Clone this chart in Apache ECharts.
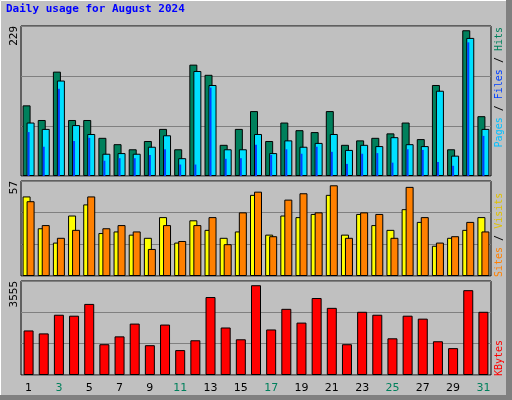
<!DOCTYPE html>
<html><head><meta charset="utf-8">
<script src="https://cdn.jsdelivr.net/npm/echarts@6/dist/echarts.min.js"></script>
<style>html,body{margin:0;padding:0;background:#c0c0c0}#c{width:512px;height:400px}</style>
</head><body><div id="c"></div>
<script>
const days = ['1','2','3','4','5','6','7','8','9','10','11','12','13','14','15','16','17','18','19','20','21','22','23','24','25','26','27','28','29','30','31'];
const weekend = ['3','4','10','11','17','18','24','25','31'];
const hits  = [111,88,164,88,88,60,50,42,55,74,42,175,159,49,74,102,55,84,72,69,102,49,56,60,67,84,58,143,42,229,94];
const files = [84,74,150,80,66,35,36,35,46,64,28,165,143,42,42,66,36,56,46,52,66,41,49,47,61,50,47,134,32,217,74];
const pages = [69,46,137,55,60,24,28,28,33,42,18,18,139,27,28,49,33,42,35,46,38,19,35,36,21,42,41,22,16,210,63];
const sites = [50,30,21,38,45,27,28,26,24,37,21,35,29,24,28,51,26,38,37,39,51,26,39,32,29,42,34,19,24,29,37];
const visits= [47,32,24,29,50,30,32,28,17,32,22,32,37,20,40,53,25,48,52,40,57,24,40,39,24,56,37,21,25,34,28];
const kbytes= [1764,1647,2386,2348,2815,1219,1530,2036,1180,1997,986,1375,3087,1881,1414,3555,1803,2620,2075,3048,2659,1219,2503,2386,1453,2348,2231,1336,1064,3359,2503];
const maxLabels = ['229','57','3555'];

const ch = echarts.init(document.getElementById('c'));
const mono = 'DejaVu Sans Mono';
const grids = [{top:26,height:150},{top:181,height:95},{top:281,height:94}].map(g=>({left:21,right:21,top:g.top,height:g.height,show:true,backgroundColor:'#c0c0c0',borderColor:'#000',borderWidth:1}));
function xa(gi, show, id){return {type:'category',gridIndex:gi,data:days,show:true,
  axisLine:{show:false},axisTick:{show:false},
  axisLabel:{show:show,margin:8,fontFamily:'DejaVu Sans',fontSize:11,
    color:(v)=>weekend.includes(v)?'#00805c':'#000'}};}
function ya(gi,max){return {type:'value',gridIndex:gi,min:0,max:max,interval:max/3,
  axisLabel:{show:false},axisLine:{show:false},axisTick:{show:false},
  splitLine:{show:true,lineStyle:{color:'#808080',width:1}}};}
const bs = (c)=>({color:c,borderColor:'#000',borderWidth:1});
ch.setOption({
  animation:false,
  backgroundColor:'#c0c0c0',
  grid:grids,
  xAxis:[xa(0,false),xa(0,false),xa(1,false),xa(2,true)],
  yAxis:[ya(0,235.7),ya(0,235.7),ya(1,59.7),ya(2,3722)],
  series:[
    {type:'bar',xAxisIndex:0,yAxisIndex:0,data:hits,barWidth:8,barGap:'-50%',itemStyle:bs('#00805c')},
    {type:'bar',xAxisIndex:0,yAxisIndex:0,data:files,barWidth:8,barGap:'-50%',itemStyle:bs('#00e0ff')},
    {type:'bar',xAxisIndex:1,yAxisIndex:1,data:pages,barWidth:2,itemStyle:{color:'#0040ff',borderWidth:0}},
    {type:'bar',xAxisIndex:2,yAxisIndex:2,data:sites,barWidth:8,barGap:'-50%',itemStyle:bs('#ffff00')},
    {type:'bar',xAxisIndex:2,yAxisIndex:2,data:visits,barWidth:8,barGap:'-50%',itemStyle:bs('#ff8000')},
    {type:'bar',xAxisIndex:3,yAxisIndex:3,data:kbytes,barWidth:10,itemStyle:bs('#ff0000')}
  ],
  graphic:[
    {type:'polyline',shape:{points:[[0.5,399],[0.5,0.5],[511,0.5]]},style:{stroke:'#fff',lineWidth:1,fill:null},silent:true},
    {type:'rect',shape:{x:506,y:0,width:6,height:400},style:{fill:'#808080'},silent:true},
    {type:'rect',shape:{x:0,y:395,width:512,height:5},style:{fill:'#808080'},silent:true},
    {type:'text',left:6,top:4,style:{text:'Daily usage for August 2024',fill:'#0000ff',font:'bold 11px '+mono}},
    {type:'text',x:14,y:26,rotation:Math.PI/2,style:{text:maxLabels[0],fill:'#000',font:'11px '+mono,align:'right',verticalAlign:'middle'}},
    {type:'text',x:14,y:181,rotation:Math.PI/2,style:{text:maxLabels[1],fill:'#000',font:'11px '+mono,align:'right',verticalAlign:'middle'}},
    {type:'text',x:14,y:281,rotation:Math.PI/2,style:{text:maxLabels[2],fill:'#000',font:'11px '+mono,align:'right',verticalAlign:'middle'}},
    {type:'text',x:499,y:27,rotation:Math.PI/2,style:{align:'right',verticalAlign:'middle',font:'10px '+mono,
      rich:{p:{fill:'#00c0ff',font:'10px '+mono},f:{fill:'#0040ff',font:'10px '+mono},h:{fill:'#00805c',font:'10px '+mono},s:{fill:'#000',font:'10px '+mono}},
      text:'{p|Pages}{s| / }{f|Files}{s| / }{h|Hits}'}},
    {type:'text',x:499,y:277,rotation:Math.PI/2,style:{align:'left',verticalAlign:'middle',font:'10px '+mono,
      rich:{a:{fill:'#ff8000',font:'10px '+mono},b:{fill:'#e0c000',font:'10px '+mono},s:{fill:'#000',font:'10px '+mono}},
      text:'{a|Sites}{s| / }{b|Visits}'}},
    {type:'text',x:499,y:376,rotation:Math.PI/2,style:{align:'left',verticalAlign:'middle',font:'10px '+mono,fill:'#ff0000',text:'KBytes'}}
  ]
});
</script></body></html>
